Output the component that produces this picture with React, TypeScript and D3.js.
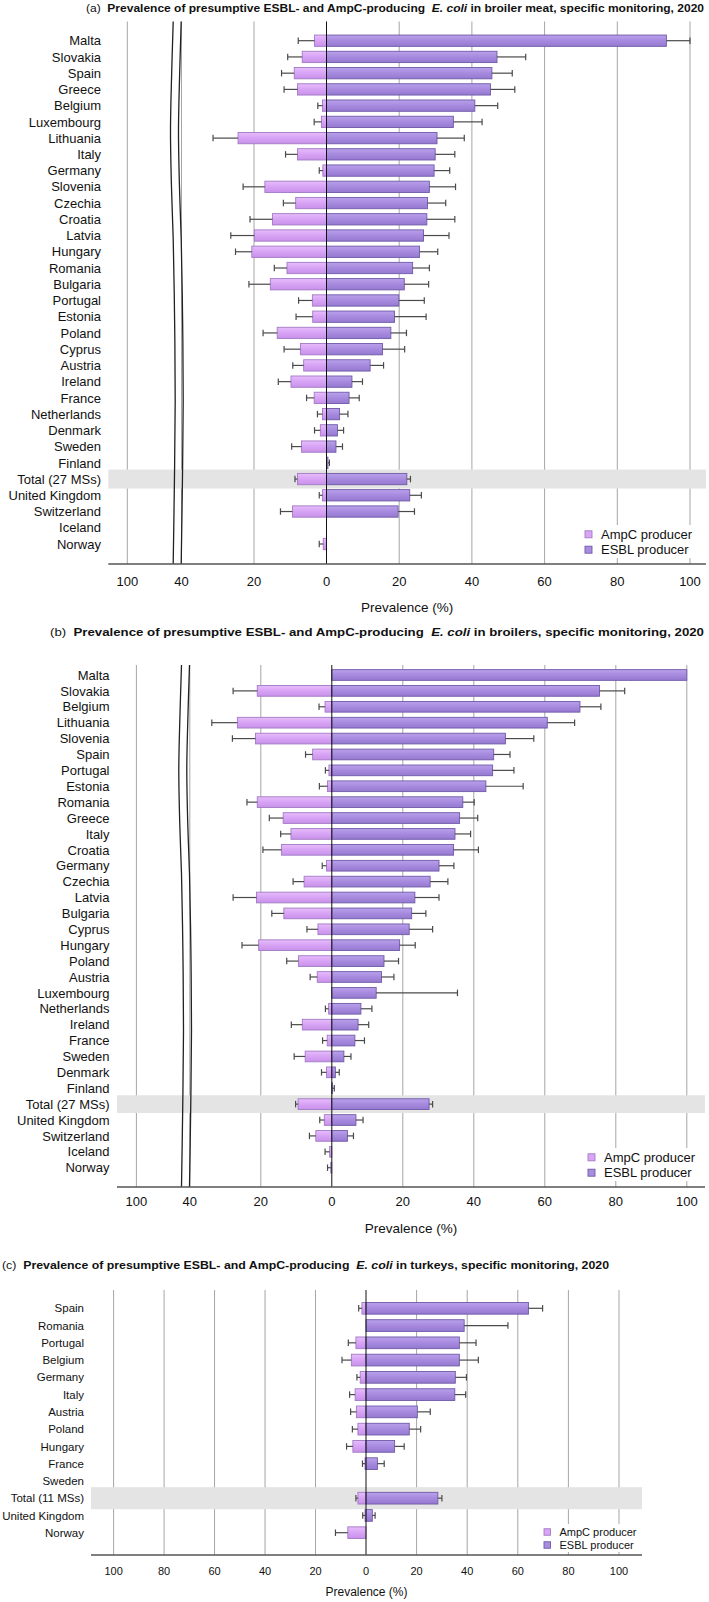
import React from 'react';
import * as d3 from 'd3';

// ---------- Data: panel (a) broiler meat ----------
const catsA = ['Malta','Slovakia','Spain','Greece','Belgium','Luxembourg','Lithuania','Italy','Germany','Slovenia','Czechia','Croatia','Latvia','Hungary','Romania','Bulgaria','Portugal','Estonia','Poland','Cyprus','Austria','Ireland','France','Netherlands','Denmark','Sweden','Finland','Total (27 MSs)','United Kingdom','Switzerland','Iceland','Norway'];
const ampcA =   [3.3,6.7,8.9,8.0,1.1,1.4,24.4,8.0,1.0,17.0,8.5,14.9,19.9,20.6,10.9,15.5,3.9,3.8,13.6,7.2,6.3,9.8,3.4,1.1,1.7,6.9,0,8.0,1.1,9.4,0,0.9];
const ampcHiA = [7.8,10.7,12.4,11.7,2.4,3.4,31.3,11.3,2.0,23.0,11.9,21.1,26.4,25.1,14.4,21.4,7.7,8.4,17.5,11.7,9.3,13.3,5.5,2.5,3.3,9.6,0,8.7,2.0,12.7,0,2.0];
const esblA =   [93.5,46.9,45.5,45.1,40.8,34.9,30.4,29.9,29.6,28.3,27.8,27.6,26.7,25.6,23.7,21.4,19.9,18.7,17.7,15.4,12.0,7.0,6.2,3.6,3.0,2.6,0.4,22.1,22.9,19.7,0,0];
const esblHiA = [100,54.8,51.1,51.8,47.1,42.8,37.9,35.3,33.9,35.5,32.8,35.3,33.7,30.6,28.3,28.1,26.9,27.4,22.0,21.5,15.7,9.9,9.0,5.9,4.7,4.4,0.8,23.1,26.1,24.2,0,0];

// ---------- Data: panel (b) broilers ----------
const catsB = ['Malta','Slovakia','Belgium','Lithuania','Slovenia','Spain','Portugal','Estonia','Romania','Greece','Italy','Croatia','Germany','Czechia','Latvia','Bulgaria','Cyprus','Hungary','Poland','Austria','Luxembourg','Netherlands','Ireland','France','Sweden','Denmark','Finland','Total (27 MSs)','United Kingdom','Switzerland','Iceland','Norway'];
const ampcB =   [0,21.0,1.9,26.6,21.5,5.4,0.8,1.2,21.0,13.7,11.5,14.2,1.5,7.8,21.2,13.5,3.9,20.6,9.4,4.1,0,0.9,8.3,1.3,7.5,1.5,0,9.5,2.1,4.5,0.6,0.3];
const ampcHiB = [0,27.8,3.6,33.8,28.0,7.4,1.8,3.5,23.9,17.6,14.4,19.4,2.7,10.9,27.8,16.9,7.0,25.3,12.7,6.1,0,1.8,11.4,2.6,10.6,2.9,0,10.2,3.4,6.3,1.9,1.2];
const esblB =   [100,75.4,69.9,60.7,48.9,45.6,45.3,43.4,36.9,36.0,34.7,34.3,30.2,27.7,23.4,22.5,21.8,19.1,14.7,14.0,12.5,8.2,7.4,6.5,3.4,1.0,0.2,27.4,6.8,4.4,0,0];
const esblHiB = [100,82.5,75.8,68.4,56.9,50.2,51.3,53.9,40.1,41.1,39.1,41.3,34.4,32.7,30.2,26.5,28.4,23.5,18.8,17.5,35.4,11.3,10.4,9.2,5.4,2.1,0.7,28.4,8.8,6.1,0,0];

// ---------- Data: panel (c) turkeys ----------
const catsC = ['Spain','Romania','Portugal','Belgium','Germany','Italy','Austria','Poland','Hungary','France','Sweden','Total (11 MSs)','United Kingdom','Norway'];
const ampcC =   [1.6,0,4.0,5.8,2.3,4.3,3.8,3.2,5.2,0.4,0,3.2,0.4,7.2];
const ampcHiC = [2.9,0,7.0,9.5,3.6,6.5,6.1,5.4,7.7,1.4,0,4.0,1.3,12.1];
const esblC =   [64.2,38.8,36.9,36.9,35.3,35.1,20.3,17.1,11.3,4.5,0,28.4,2.5,0];
const esblHiC = [69.8,56.1,43.5,44.4,39.7,39.4,25.4,21.6,15.1,7.2,0,30.0,3.6,0];

// ---------- Tick values ----------
const ticksBroken = [-100,-40,-20,0,20,40,60,80,100];
const ticksFull = [-100,-80,-60,-40,-20,0,20,40,60,80,100];

const legendLabels = ['AmpC producer','ESBL producer'];

const FONT = '"Liberation Sans", Arial, Helvetica, sans-serif';

type Cfg = {
  id: string;
  letter: string;
  subject: string;
  cats: string[];
  ampc: number[]; ampcHi: number[]; esbl: number[]; esblHi: number[];
  totalLabel: string;
  xDomain: number[]; xRange: number[];
  axisX0: number; axisX1: number;
  ticks: number[];
  broken: boolean;
  labelX: number; labelSize: number;
  titleX: number; titleY: number; titleW: number; titleSize: number;
  gridTop: number; firstRow: number; lastRow: number;
  axisY: number; tickY: number; xlabY: number; tickSize: number; xlabSize: number;
  barH: number; bandH: number;
  legX: number; legY1: number; legY2: number; legSize: number; legSq: number;
  legBox: number[];
};

const panels: Cfg[] = [
  {
    id: 'a', letter: '(a)', subject: ' in broiler meat, specific monitoring, 2020',
    cats: catsA, ampc: ampcA, ampcHi: ampcHiA, esbl: esblA, esblHi: esblHiA,
    totalLabel: 'Total (27 MSs)',
    xDomain: [-100,-40,0,100], xRange: [127.3,181.5,326.5,690],
    axisX0: 108.3, axisX1: 706, ticks: ticksBroken, broken: true,
    labelX: 101, labelSize: 13,
    titleX: 86, titleY: 11.8, titleW: 618, titleSize: 11.5,
    gridTop: 21.5, firstRow: 40.7, lastRow: 544,
    axisY: 564, tickY: 586.3, xlabY: 611.5, tickSize: 13, xlabSize: 13.5,
    barH: 11.3, bandH: 19,
    legX: 585, legY1: 534.3, legY2: 549.7, legSize: 13, legSq: 7,
    legBox: [582, 525, 122, 33],
  },
  {
    id: 'b', letter: '(b)', subject: ' in broilers, specific monitoring, 2020',
    cats: catsB, ampc: ampcB, ampcHi: ampcHiB, esbl: esblB, esblHi: esblHiB,
    totalLabel: 'Total (27 MSs)',
    xDomain: [-100,-40,0,100], xRange: [136.4,189.8,331.8,686.8],
    axisX0: 117, axisX1: 705, ticks: ticksBroken, broken: true,
    labelX: 109.5, labelSize: 13,
    titleX: 50, titleY: 636, titleW: 654, titleSize: 11.5,
    gridTop: 665, firstRow: 675, lastRow: 1167.7,
    axisY: 1187, tickY: 1206.3, xlabY: 1233, tickSize: 13, xlabSize: 13.5,
    barH: 10.7, bandH: 17.7,
    legX: 588, legY1: 1157.3, legY2: 1172.7, legSize: 13, legSq: 7,
    legBox: [584, 1148, 118, 33],
  },
  {
    id: 'c', letter: '(c)', subject: ' in turkeys, specific monitoring, 2020',
    cats: catsC, ampc: ampcC, ampcHi: ampcHiC, esbl: esblC, esblHi: esblHiC,
    totalLabel: 'Total (11 MSs)',
    xDomain: [-100,0,100], xRange: [113.6,366,619],
    axisX0: 91, axisX1: 642, ticks: ticksFull, broken: false,
    labelX: 84, labelSize: 11.5,
    titleX: 2, titleY: 1269, titleW: 607, titleSize: 11.5,
    gridTop: 1290, firstRow: 1308.3, lastRow: 1532.7,
    axisY: 1555, tickY: 1574.7, xlabY: 1596, tickSize: 11, xlabSize: 12,
    barH: 11.7, bandH: 22,
    legX: 544, legY1: 1532, legY2: 1545, legSize: 11, legSq: 6.5,
    legBox: [540, 1524, 100, 28],
  },
];

// offsets (t along the height, dx) describing the gentle wave of the axis-break lines
const breakWave: [number, number][] = [[0, 0], [0.1, -1.6], [0.2, -2.7], [0.3, -1.8], [0.4, 0], [0.55, 1.4], [0.7, 2.0], [0.85, 1.2], [1, 0]];

function Panel({ cfg }: { cfg: Cfg }) {
  const x = d3.scaleLinear().domain(cfg.xDomain).range(cfg.xRange);
  const y = d3.scalePoint<string>().domain(cfg.cats).range([cfg.firstRow, cfg.lastRow]);
  const x0 = x(0);
  const h = cfg.barH;
  const capH = 6.5;
  const gA = `gradA_${cfg.id}`;
  const gE = `gradE_${cfg.id}`;

  const breakPath = (base: number) => {
    const pts: [number, number][] = breakWave.map(([t, dx]) => [base + dx, cfg.gridTop + t * (cfg.axisY - cfg.gridTop)]);
    return d3.line().curve(d3.curveCatmullRom)(pts) || '';
  };

  const totY = y(cfg.totalLabel) as number;

  return (
    <g fontFamily={FONT}>
      <defs>
        <linearGradient id={gA} x1="0" y1="0" x2="0" y2="1">
          <stop offset="0" stopColor="#E6BDFB" />
          <stop offset="0.45" stopColor="#D9A5F6" />
          <stop offset="1" stopColor="#C891EA" />
        </linearGradient>
        <linearGradient id={gE} x1="0" y1="0" x2="0" y2="1">
          <stop offset="0" stopColor="#B9A1EA" />
          <stop offset="0.45" stopColor="#A98CE0" />
          <stop offset="1" stopColor="#9479D0" />
        </linearGradient>
      </defs>

      {/* title */}
      <text x={cfg.titleX} y={cfg.titleY} fontSize={cfg.titleSize} textLength={cfg.titleW}
        lengthAdjust="spacingAndGlyphs" fill="#111" style={{ whiteSpace: 'pre' }}>
        <tspan>{cfg.letter + '  '}</tspan>
        <tspan fontWeight="bold">{'Prevalence of presumptive ESBL- and AmpC-producing  '}</tspan>
        <tspan fontWeight="bold" fontStyle="italic">E. coli</tspan>
        <tspan fontWeight="bold">{cfg.subject}</tspan>
      </text>

      {/* gridlines */}
      {cfg.ticks.filter((t) => t !== 0).map((t) => (
        <line key={'g' + t} x1={x(t)} x2={x(t)} y1={cfg.gridTop} y2={cfg.axisY} stroke="#A6A6A6" strokeWidth={1} />
      ))}

      {/* total band */}
      <rect x={cfg.axisX0} width={cfg.axisX1 - cfg.axisX0} y={totY - cfg.bandH / 2} height={cfg.bandH} fill="#E4E4E4" />

      {/* bars */}
      {cfg.cats.map((c, i) => {
        const yc = y(c) as number;
        const a = cfg.ampc[i], aHi = cfg.ampcHi[i], e = cfg.esbl[i], eHi = cfg.esblHi[i];
        return (
          <g key={c}>
            {a > 0 && (
              <rect x={x(-a)} width={x0 - x(-a)} y={yc - h / 2} height={h} fill={`url(#${gA})`} stroke="#A27AC4" strokeWidth={0.9} />
            )}
            {e > 0 && (
              <rect x={x0} width={x(e) - x0} y={yc - h / 2} height={h} fill={`url(#${gE})`} stroke="#6F59A8" strokeWidth={0.9} />
            )}
            {aHi > a && (
              <g stroke="#4a4a4a" strokeWidth={1.2}>
                <line x1={x(-a)} x2={x(-aHi)} y1={yc} y2={yc} />
                <line x1={x(-aHi)} x2={x(-aHi)} y1={yc - capH / 2} y2={yc + capH / 2} />
              </g>
            )}
            {eHi > e && (
              <g stroke="#4a4a4a" strokeWidth={1.2}>
                <line x1={x(e)} x2={x(eHi)} y1={yc} y2={yc} />
                <line x1={x(eHi)} x2={x(eHi)} y1={yc - capH / 2} y2={yc + capH / 2} />
              </g>
            )}
          </g>
        );
      })}

      {/* zero line */}
      <line x1={x0} x2={x0} y1={cfg.gridTop} y2={cfg.axisY} stroke="#111" strokeWidth={1} />

      {/* axis break */}
      {cfg.broken && (
        <g fill="none" stroke="#222" strokeWidth={1.3}>
          <path d={breakPath(x(-40) - 8.3)} />
          <path d={breakPath(x(-40) - 0.3)} />
        </g>
      )}

      {/* axis line */}
      <line x1={cfg.axisX0} x2={cfg.axisX1} y1={cfg.axisY} y2={cfg.axisY} stroke="#555" strokeWidth={1.5} />

      {/* category labels */}
      {cfg.cats.map((c) => (
        <text key={'l' + c} x={cfg.labelX} y={(y(c) as number) + cfg.labelSize * 0.36} textAnchor="end"
          fontSize={cfg.labelSize} fill="#111">{c}</text>
      ))}

      {/* tick labels */}
      {cfg.ticks.map((t) => (
        <text key={'t' + t} x={x(t)} y={cfg.tickY} textAnchor="middle" fontSize={cfg.tickSize} fill="#111">
          {Math.abs(t)}
        </text>
      ))}
      <text x={(cfg.axisX0 + cfg.axisX1) / 2} y={cfg.xlabY} textAnchor="middle" fontSize={cfg.xlabSize} fill="#111">
        Prevalence (%)
      </text>

      {/* legend */}
      <rect x={cfg.legBox[0]} y={cfg.legBox[1]} width={cfg.legBox[2]} height={cfg.legBox[3]} fill="#fff" />
      {legendLabels.map((lab, i) => {
        const ly = i === 0 ? cfg.legY1 : cfg.legY2;
        return (
          <g key={lab}>
            <rect x={cfg.legX} y={ly - cfg.legSq / 2} width={cfg.legSq} height={cfg.legSq}
              fill={i === 0 ? '#D9A5F6' : '#A98CE0'} stroke={i === 0 ? '#A27AC4' : '#6F59A8'} strokeWidth={0.9} />
            <text x={cfg.legX + cfg.legSq + 9} y={ly + cfg.legSize * 0.36} fontSize={cfg.legSize} fill="#111">{lab}</text>
          </g>
        );
      })}
    </g>
  );
}

export default function App() {
  return (
    <svg width={709} height={1602} viewBox="0 0 709 1602"
      style={{ position: 'absolute', left: 0, top: 0, background: '#fff' }}>
      <rect width={709} height={1602} fill="#fff" />
      {panels.map((p) => <Panel key={p.id} cfg={p} />)}
    </svg>
  );
}
